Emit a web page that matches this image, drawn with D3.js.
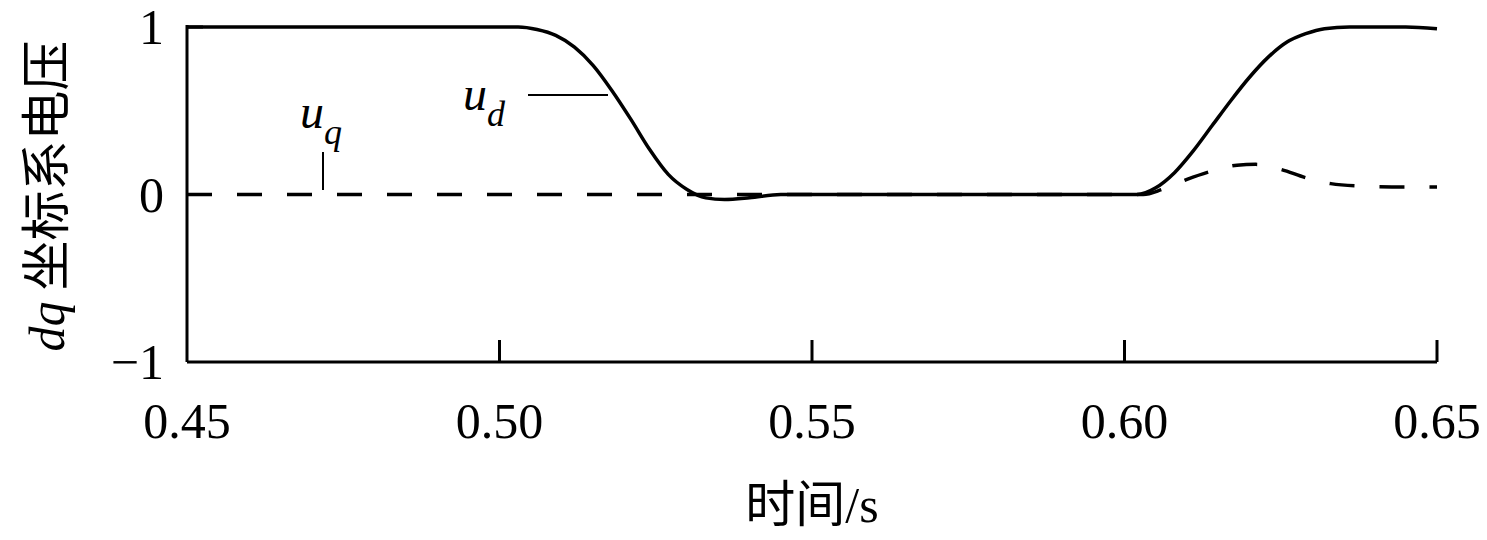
<!DOCTYPE html>
<html>
<head>
<meta charset="utf-8">
<script src="https://cdn.jsdelivr.net/npm/d3@7"></script>
<style>
  body { margin: 0; background: #fff; }
  text { font-family: "Liberation Serif", "Times New Roman", serif; fill: #000; }
</style>
</head>
<body>
<div id="chart"></div>
<script>
// time samples (s) and the two voltage components
var timeD = [0.45, 0.503, 0.506, 0.509, 0.512, 0.515, 0.518, 0.521, 0.524, 0.527, 0.530, 0.533, 0.536, 0.540, 0.545, 0.55, 0.60, 0.602, 0.605, 0.608, 0.611, 0.614, 0.617, 0.620, 0.623, 0.626, 0.629, 0.632, 0.636, 0.645, 0.65];
var ud    = [1.0, 1.0, 0.985, 0.95, 0.88, 0.77, 0.62, 0.45, 0.27, 0.12, 0.03, -0.02, -0.03, -0.02, 0.0, 0.0, 0.0, 0.0, 0.04, 0.13, 0.26, 0.41, 0.56, 0.70, 0.82, 0.91, 0.96, 0.99, 1.0, 1.0, 0.99];
var timeQ = [0.45, 0.50, 0.55, 0.60, 0.603, 0.606, 0.610, 0.614, 0.618, 0.621, 0.625, 0.629, 0.633, 0.638, 0.645, 0.65];
var uq    = [0.0, 0.0, 0.0, 0.0, 0.0, 0.03, 0.09, 0.14, 0.175, 0.18, 0.15, 0.10, 0.065, 0.05, 0.045, 0.045];
var xTicks = [0.45, 0.50, 0.55, 0.60, 0.65];
var yTicks = [1, 0, -1];

var svgWidth = 1487, svgHeight = 540;
var margin = { top: 27, right: 50, bottom: 178, left: 187 };

var svg = d3.select("#chart").append("svg")
  .attr("width", svgWidth)
  .attr("height", svgHeight);

var x = d3.scaleLinear().domain([0.45, 0.65]).range([margin.left, svgWidth - margin.right]);
var y = d3.scaleLinear().domain([-1, 1]).range([svgHeight - margin.bottom, margin.top]);

// axes: left line from -1 to 1, bottom line, inward ticks
var g = svg.append("g").attr("stroke", "#000").attr("stroke-width", 3);
g.append("line").attr("x1", x(0.45)).attr("x2", x(0.45)).attr("y1", y(1) - 2).attr("y2", y(-1));
g.append("line").attr("x1", x(0.45)).attr("x2", x(0.65)).attr("y1", y(-1)).attr("y2", y(-1));
xTicks.slice(1).forEach(function(t) {
  g.append("line").attr("x1", x(t)).attr("x2", x(t)).attr("y1", y(-1)).attr("y2", y(-1) - 22);
});
yTicks.slice(0, 2).forEach(function(v) {
  g.append("line").attr("x1", x(0.45)).attr("x2", x(0.45) + 16).attr("y1", y(v)).attr("y2", y(v));
});

// tick labels
svg.selectAll(".xt").data(xTicks).enter().append("text")
  .attr("x", d => x(d)).attr("y", 438)
  .attr("text-anchor", "middle").attr("font-size", 50)
  .text(d => d.toFixed(2));
svg.selectAll(".yt").data(yTicks).enter().append("text")
  .attr("x", 164).attr("y", d => y(d) + 17)
  .attr("text-anchor", "end").attr("font-size", 50)
  .text(d => d < 0 ? "\u2212" + Math.abs(d) : d);

// axis titles
svg.append("text")
  .attr("x", 812).attr("y", 522).attr("text-anchor", "middle")
  .attr("font-size", 50)
  .html('<tspan font-family="Noto Sans CJK SC">时间</tspan>/s');
svg.append("text")
  .attr("transform", "translate(64," + 196 + ") rotate(-90)")
  .attr("text-anchor", "middle").attr("font-size", 50)
  .html('<tspan font-style="italic">dq</tspan><tspan font-family="Noto Sans CJK SC"> 坐标系电压</tspan>');

// curves
var lineD = d3.line().x((d, i) => x(timeD[i])).y(d => y(d)).curve(d3.curveMonotoneX);
var lineQ = d3.line().x((d, i) => x(timeQ[i])).y(d => y(d)).curve(d3.curveMonotoneX);

svg.append("path").datum(uq).attr("d", lineQ)
  .attr("fill", "none").attr("stroke", "#000").attr("stroke-width", 3.5)
  .attr("stroke-dasharray", "25,25");
svg.append("path").datum(ud).attr("d", lineD)
  .attr("fill", "none").attr("stroke", "#000").attr("stroke-width", 3.5);

// annotations
svg.append("line").attr("x1", 323).attr("x2", 323).attr("y1", 152).attr("y2", 190)
  .attr("stroke", "#000").attr("stroke-width", 2);
svg.append("text").attr("x", 300).attr("y", 128).attr("font-size", 48).attr("font-style", "italic")
  .html('u<tspan font-size="36" dy="16">q</tspan>');
svg.append("line").attr("x1", 528).attr("x2", 608).attr("y1", 95).attr("y2", 95)
  .attr("stroke", "#000").attr("stroke-width", 2);
svg.append("text").attr("x", 463).attr("y", 110).attr("font-size", 48).attr("font-style", "italic")
  .html('u<tspan font-size="36" dy="16">d</tspan>');
</script>
</body>
</html>
